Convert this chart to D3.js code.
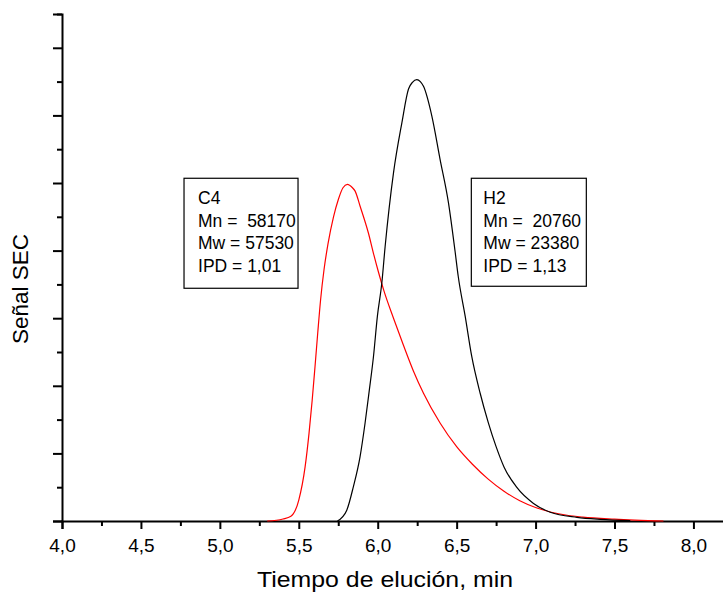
<!DOCTYPE html>
<html>
<head>
<meta charset="utf-8">
<script src="https://cdn.jsdelivr.net/npm/d3@7"></script>
<style>
  body { margin: 0; background: #fff; }
  text { font-family: "Liberation Sans", Arial, sans-serif; fill: #000; }
</style>
</head>
<body>
<script>
// curve C4 (red)
let c4X = [5.30, 5.40, 5.45, 5.50, 5.54, 5.565, 5.585, 5.603, 5.62, 5.638, 5.66, 5.685, 5.72, 5.751, 5.78, 5.808, 5.84, 5.857, 5.888, 5.941, 5.973, 6.005, 6.04, 6.10, 6.163, 6.226, 6.29, 6.395, 6.5, 6.6, 6.7, 6.8, 6.9, 7.0, 7.1, 7.2, 7.3, 7.5, 7.81];
let c4Y = [0, 0.03, 0.07, 0.31, 0.80, 1.30, 1.79, 2.29, 2.78, 3.27, 3.72, 4.10, 4.50, 4.76, 4.93, 4.98, 4.93, 4.88, 4.66, 4.26, 3.96, 3.68, 3.40, 3.00, 2.60, 2.22, 1.89, 1.45, 1.10, 0.84, 0.62, 0.44, 0.30, 0.20, 0.13, 0.085, 0.058, 0.028, 0];

// curve H2 (black)
let h2X = [5.745, 5.804, 5.846, 5.888, 5.92, 5.947, 5.973, 5.998, 6.026, 6.047, 6.10, 6.153, 6.195, 6.22, 6.248, 6.27, 6.29, 6.343, 6.395, 6.448, 6.49, 6.51, 6.554, 6.596, 6.649, 6.70, 6.75, 6.80, 6.88, 6.987, 7.093, 7.262, 7.41, 7.60];
let h2Y = [0, 0.16, 0.51, 0.95, 1.45, 1.94, 2.43, 3.03, 3.52, 4.06, 5.15, 5.89, 6.39, 6.49, 6.53, 6.50, 6.43, 5.99, 5.35, 4.71, 3.99, 3.62, 3.03, 2.43, 1.89, 1.46, 1.10, 0.80, 0.50, 0.26, 0.13, 0.055, 0.025, 0.005];

let xTicks = [4.0, 4.5, 5.0, 5.5, 6.0, 6.5, 7.0, 7.5, 8.0];
let xTickLabels = ['4,0', '4,5', '5,0', '5,5', '6,0', '6,5', '7,0', '7,5', '8,0'];
let xMinor = [4.25, 4.75, 5.25, 5.75, 6.25, 6.75, 7.25, 7.75];
let yTicks = [0, 1, 2, 3, 4, 5, 6, 7];
let yMinor = [0.5, 1.5, 2.5, 3.5, 4.5, 5.5, 6.5, 7.5];

let c4Lines = ['C4', 'Mn =  58170', 'Mw = 57530', 'IPD = 1,01'];
let h2Lines = ['H2', 'Mn =  20760', 'Mw = 23380', 'IPD = 1,13'];

let w = 723, h = 592;

let svg = d3.select('body')
  .append('svg')
  .attr('width', w)
  .attr('height', h);

let xScale = d3.scaleLinear()
  .domain([4, 8.2])
  .range([62, 725]);

let yScale = d3.scaleLinear()
  .domain([0, 7.5])
  .range([521, 14]);

// x axis
svg.append('g')
  .attr('transform', 'translate(0,521)')
  .call(d3.axisBottom(xScale)
    .tickValues(xTicks)
    .tickSize(8)
    .tickPadding(10)
    .tickFormat((d, i) => xTickLabels[i]));

svg.append('g')
  .attr('transform', 'translate(0,521)')
  .call(d3.axisBottom(xScale)
    .tickValues(xMinor)
    .tickSize(5)
    .tickFormat(''))
  .select('.domain').remove();

// y axis
svg.append('g')
  .attr('transform', 'translate(62,0)')
  .call(d3.axisLeft(yScale)
    .tickValues(yTicks)
    .tickSize(9)
    .tickFormat(''));

svg.append('g')
  .attr('transform', 'translate(62,0)')
  .call(d3.axisLeft(yScale)
    .tickValues(yMinor)
    .tickSize(5)
    .tickFormat(''))
  .select('.domain').remove();

svg.selectAll('.domain')
  .attr('stroke', '#000')
  .attr('stroke-width', 2);
svg.selectAll('.tick line')
  .attr('stroke', '#000')
  .attr('stroke-width', 2);
svg.selectAll('.tick text')
  .style('font-size', '19px')
  .style('font-family', '"Liberation Sans", Arial, sans-serif');

// axis titles
svg.append('text')
  .text('Tiempo de elución, min')
  .attr('transform', 'translate(385,587) scale(1.13,1)')
  .attr('text-anchor', 'middle')
  .style('font-size', '22px');

svg.append('text')
  .text('Señal SEC')
  .attr('transform', 'translate(28,289) rotate(-90)')
  .attr('text-anchor', 'middle')
  .style('font-size', '22.5px');

// curves
let line = d3.line()
  .x(d => xScale(d[0]))
  .y(d => yScale(d[1]))
  .curve(d3.curveMonotoneX);

svg.append('path')
  .datum(c4X.map((x, i) => [x, c4Y[i]]))
  .attr('d', line)
  .attr('fill', 'none')
  .attr('stroke', '#ff0000')
  .attr('stroke-width', 1.2);

svg.append('path')
  .datum(h2X.map((x, i) => [x, h2Y[i]]))
  .attr('d', line)
  .attr('fill', 'none')
  .attr('stroke', '#000')
  .attr('stroke-width', 1.2);

// annotation boxes
let drawBox = (lines, x0, y0, bw, bh, pad) => {
  let g = svg.append('g')
    .attr('transform', `translate(${xScale(x0)},${yScale(y0)})`);
  g.append('rect')
    .attr('width', bw)
    .attr('height', bh)
    .attr('fill', '#fff')
    .attr('stroke', '#000')
    .attr('stroke-width', 1.2);
  g.selectAll('text')
    .data(lines)
    .enter()
    .append('text')
    .text(d => d)
    .attr('x', pad)
    .attr('y', (d, i) => 26 + i * 22.5)
    .style('font-size', '17.5px')
    .style('white-space', 'pre');
};

drawBox(c4Lines, 4.773, 5.07, 114, 110, 14);
drawBox(h2Lines, 6.593, 5.07, 115, 108, 12);
</script>
</body>
</html>
